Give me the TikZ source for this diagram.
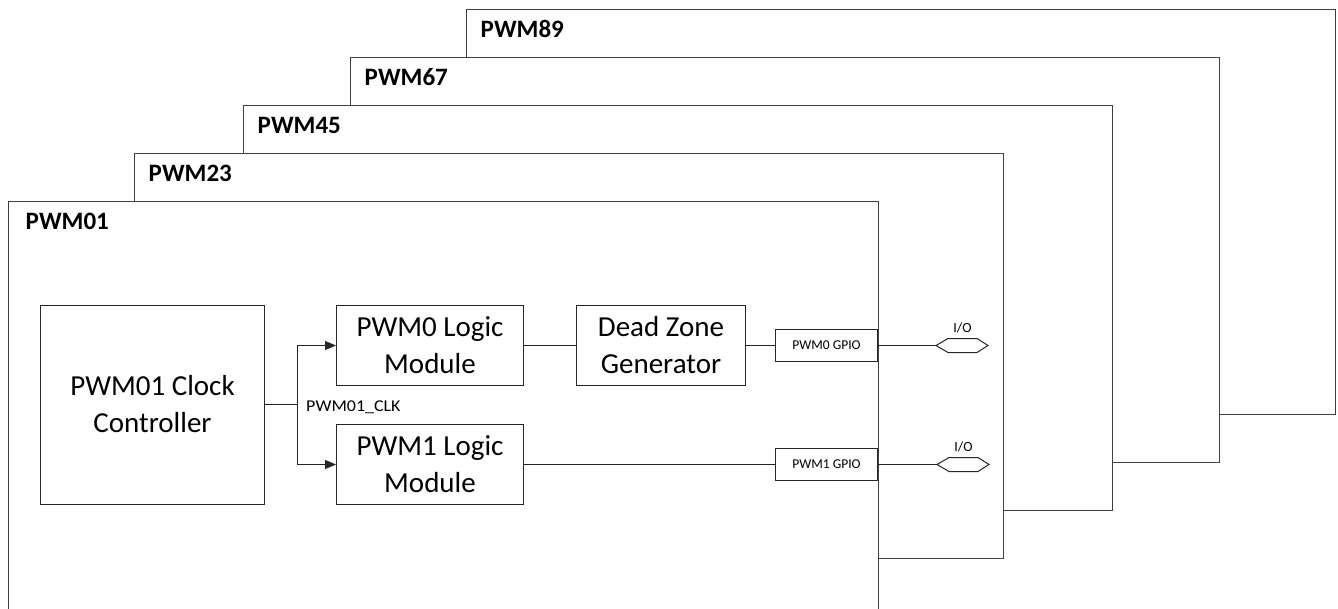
\documentclass[tikz,border=0pt]{standalone}
\usepackage{fontspec}
\setmainfont{Carlito}
\usepackage{graphicx}
\usetikzlibrary{arrows.meta}
\begin{document}
\begin{tikzpicture}[x=1pt,y=-1pt,
  frame/.style={draw=black!75, line width=1pt, fill=white, anchor=north west,
    minimum width=869pt, minimum height=405pt, inner sep=0pt},
  flabel/.style={anchor=base west, inner sep=0pt, font=\fontsize{25}{30}\selectfont\bfseries},
  blk/.style={draw=black!85, line width=1pt, fill=white, align=center, inner sep=0pt,
    font=\fontsize{29}{37}\selectfont},
  gpio/.style={draw=black!85, line width=1pt, fill=white, inner sep=0pt,
    minimum width=102pt, minimum height=32pt, font=\fontsize{13.5}{16}\selectfont},
  small/.style={inner sep=0pt, font=\fontsize{14}{16}\selectfont},
  wire/.style={draw=black!85, line width=1pt},
  arr/.style={wire, -{Triangle[length=11pt,width=9pt]}}
]
\useasboundingbox (0,0) rectangle (1338,608);

% stacked frames (back to front)
\node[frame] (f89) at (465.5,8.5) {};
\node[flabel] (l89) at ([shift={(15,28.5)}]f89.north west) {PWM89};
\node[frame] (f67) at (349.5,56.5) {};
\node[flabel] (l67) at ([shift={(15,28.5)}]f67.north west) {PWM67};
\node[frame] (f45) at (242.5,104.5) {};
\node[flabel] (l45) at ([shift={(15,28.5)}]f45.north west) {PWM45};
\node[frame] (f23) at (133.5,152.5) {};
\node[flabel] (l23) at ([shift={(15,28.5)}]f23.north west) {PWM23};
\node[frame, minimum width=870pt, minimum height=430pt] (f01) at (7.5,200.5) {};
\node[flabel] (l01) at ([shift={(18,28.5)}]f01.north west) {PWM01};

% blocks
\node[blk, minimum width=224pt, minimum height=199pt] (clk) at (152.5,404.5) {PWM01 Clock\\Controller};
\node[blk, minimum width=187pt, minimum height=80pt] (l0) at (430,345.5) {PWM0 Logic\\Module};
\node[blk, minimum width=187pt, minimum height=80pt] (l1) at (430,464.5) {PWM1 Logic\\Module};
\node[blk, minimum width=169pt, minimum height=80pt] (dz) at (661,345.5) {Dead Zone\\Generator};
\node[gpio] (g0) at (826.5,345.5) {PWM0 GPIO};
\node[gpio] (g1) at (826.5,464.5) {PWM1 GPIO};

% clock distribution
\coordinate (br) at (297.5,404.5);
\draw[wire] (clk.east) -- (br);
\draw[arr] (br) |- (l0.west);
\draw[arr] (br) |- (l1.west);
\node[anchor=base west, inner sep=0pt, font=\fontsize{16.5}{18}\selectfont] (clkl) at (306,411)
  {\scalebox{1.09}[1]{PWM01\_CLK}};

% data paths
\draw[wire] (l0.east) -- (dz.west);
\draw[wire] (dz.east) -- (g0.west);
\draw[wire] (l1.east) -- (g1.west);

% I/O pads
\coordinate (h0) at (936,345.5);
\coordinate (h1) at (937,464.5);
\draw[wire] (g0.east) -- (h0);
\draw[wire] (g1.east) -- (h1);
\draw[wire] (h0) -- ++(12,-7) -- ++(29,0) -- ++(11,7) -- ++(-11,7) -- ++(-29,0) -- cycle;
\draw[wire] (h1) -- ++(12,-7) -- ++(29,0) -- ++(11,7) -- ++(-11,7) -- ++(-29,0) -- cycle;
\node[small, anchor=base] (io0) at (962.5,332) {I/O};
\node[small, anchor=base] (io1) at (963.5,451) {I/O};
\end{tikzpicture}
\end{document}
